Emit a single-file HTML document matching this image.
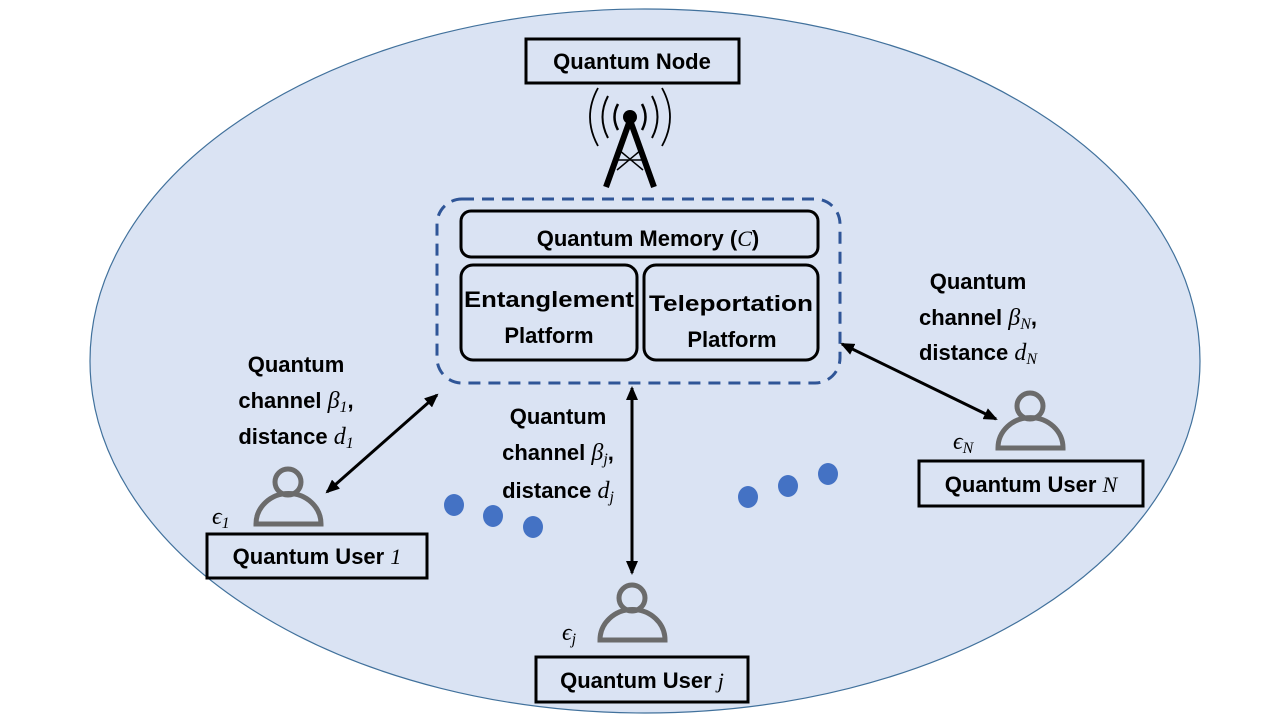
<!DOCTYPE html>
<html><head><style>
body{margin:0;background:#fff;}
svg text{font-family:"Liberation Sans",sans-serif;font-weight:bold;fill:#000;}
.m{font-family:"Liberation Serif",serif;font-style:italic;font-weight:normal;}
</style></head><body>
<svg width="1280" height="720" viewBox="0 0 1280 720" xmlns="http://www.w3.org/2000/svg">
<defs>
<marker id="a" markerWidth="14" markerHeight="12" refX="12" refY="6" orient="auto-start-reverse" markerUnits="userSpaceOnUse"><path d="M0,0 L14,6 L0,12 z" fill="#000"/></marker>
</defs>
<ellipse cx="645" cy="361" rx="555" ry="352" fill="#dae3f3" stroke="#41719c" stroke-width="1.2"/>
<rect x="526" y="39" width="213" height="44" fill="#dae3f3" stroke="#000" stroke-width="3"/>
<text x="632" y="69" font-size="22" text-anchor="middle">Quantum Node</text>
<g stroke="#000" fill="none">
<path d="M606,187 L630,120 L654,187" stroke-width="6" stroke-linejoin="round"/>
<path d="M619,150 L643,170 M641,150 L617,170 M615,160 L645,160" stroke-width="1.5"/>
<circle cx="630" cy="117" r="7" fill="#000" stroke="none"/>
<path d="M618,104 Q611,117 618,130 M642,104 Q649,117 642,130" stroke-width="2.5"/>
<path d="M608,96 Q597,117 608,138 M652,96 Q663,117 652,138" stroke-width="2"/>
<path d="M598,88 Q582,117 598,146 M662,88 Q678,117 662,146" stroke-width="1.8"/>
</g>
<rect x="437" y="199" width="403" height="184" rx="25" fill="none" stroke="#2f5597" stroke-width="3" stroke-dasharray="12,8"/>
<rect x="461" y="211" width="357" height="46" rx="10" fill="none" stroke="#000" stroke-width="3"/>
<text x="648" y="246" font-size="22" text-anchor="middle">Quantum Memory (<tspan class="m">C</tspan>)</text>
<rect x="461" y="265" width="176" height="95" rx="12" fill="none" stroke="#000" stroke-width="3"/>
<text x="549" y="307" font-size="22" text-anchor="middle" textLength="170" lengthAdjust="spacingAndGlyphs">Entanglement</text>
<text x="549" y="343" font-size="22" text-anchor="middle">Platform</text>
<rect x="644" y="265" width="174" height="95" rx="12" fill="none" stroke="#000" stroke-width="3"/>
<text x="731" y="311" font-size="22" text-anchor="middle" textLength="164" lengthAdjust="spacingAndGlyphs">Teleportation</text>
<text x="732" y="347" font-size="22" text-anchor="middle">Platform</text>
<g stroke="#000" stroke-width="3">
<line x1="437" y1="395" x2="327" y2="492" marker-start="url(#a)" marker-end="url(#a)"/>
<line x1="632" y1="388" x2="632" y2="573" marker-start="url(#a)" marker-end="url(#a)"/>
<line x1="842" y1="344" x2="996" y2="419" marker-start="url(#a)" marker-end="url(#a)"/>
</g>
<g font-size="22" text-anchor="middle">
<text x="296" y="372">Quantum</text>
<text x="296" y="408">channel <tspan class="m" font-size="24">β</tspan><tspan class="m" font-size="16" dy="4">1</tspan><tspan dy="-4">,</tspan></text>
<text x="296" y="444">distance <tspan class="m" font-size="24">d</tspan><tspan class="m" font-size="16" dy="4">1</tspan></text>
<text x="558" y="424">Quantum</text>
<text x="558" y="460">channel <tspan class="m" font-size="24">β</tspan><tspan class="m" font-size="16" dy="4">j</tspan><tspan dy="-4">,</tspan></text>
<text x="558" y="498">distance <tspan class="m" font-size="24">d</tspan><tspan class="m" font-size="16" dy="4">j</tspan></text>
<text x="978" y="289">Quantum</text>
<text x="978" y="325">channel <tspan class="m" font-size="24">β</tspan><tspan class="m" font-size="16" dy="4">N</tspan><tspan dy="-4">,</tspan></text>
<text x="978" y="360">distance <tspan class="m" font-size="24">d</tspan><tspan class="m" font-size="16" dy="4">N</tspan></text>
</g>
<g fill="none" stroke="#6b6b6b" stroke-width="5">
<circle cx="288" cy="482" r="13"/><path d="M256,524 A32,30 0 0 1 321,524 Z"/>
<circle cx="632" cy="598" r="13"/><path d="M600,640 A32,30 0 0 1 665,640 Z"/>
<circle cx="1030" cy="406" r="13"/><path d="M998,448 A32,30 0 0 1 1063,448 Z"/>
</g>
<text x="212" y="524" class="m" font-size="24">ϵ<tspan font-size="16" dy="4">1</tspan></text>
<text x="562" y="640" class="m" font-size="24">ϵ<tspan font-size="16" dy="4">j</tspan></text>
<text x="953" y="449" class="m" font-size="24">ϵ<tspan font-size="16" dy="4">N</tspan></text>
<rect x="207" y="534" width="220" height="44" fill="none" stroke="#000" stroke-width="3"/>
<text x="317" y="564" font-size="22" text-anchor="middle">Quantum User <tspan class="m">1</tspan></text>
<rect x="536" y="657" width="212" height="45" fill="none" stroke="#000" stroke-width="3"/>
<text x="642" y="688" font-size="22" text-anchor="middle">Quantum User <tspan class="m">j</tspan></text>
<rect x="919" y="461" width="224" height="45" fill="none" stroke="#000" stroke-width="3"/>
<text x="1031" y="492" font-size="22" text-anchor="middle">Quantum User <tspan class="m">N</tspan></text>
<g fill="#4472c4">
<ellipse cx="454" cy="505" rx="10" ry="11"/><ellipse cx="493" cy="516" rx="10" ry="11"/><ellipse cx="533" cy="527" rx="10" ry="11"/>
<ellipse cx="748" cy="497" rx="10" ry="11"/><ellipse cx="788" cy="486" rx="10" ry="11"/><ellipse cx="828" cy="474" rx="10" ry="11"/>
</g>
</svg>
</body></html>
